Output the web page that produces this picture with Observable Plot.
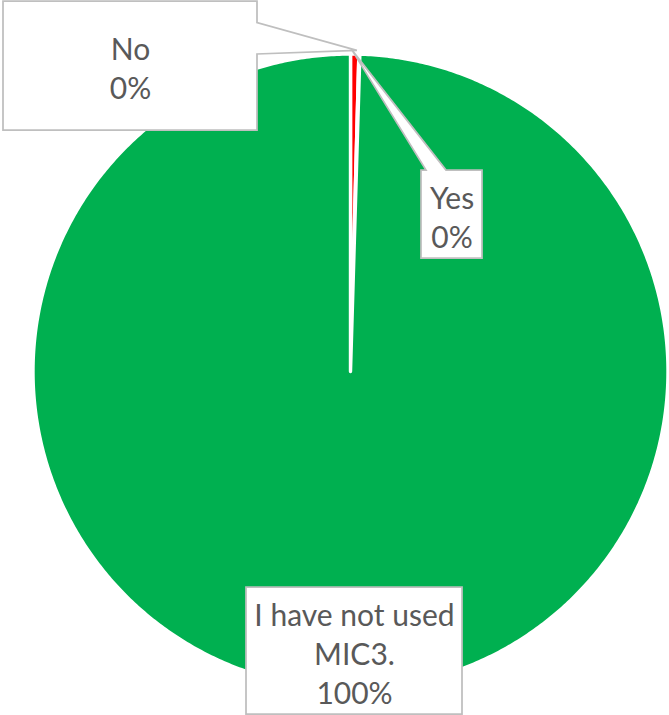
<!DOCTYPE html>
<html><head><meta charset="utf-8">
<script src="https://cdn.jsdelivr.net/npm/d3@7"></script>
<script src="https://cdn.jsdelivr.net/npm/@observablehq/plot@0.6"></script>
<style>body{margin:0;background:#fff} svg{display:block}</style>
</head><body><div id="chart"></div>
<script>
// ---- data ----
const categories = ["Yes", "No", "I have not used MIC3."];
const values = [0.42, 0.05, 99.53];           // estimated shares (%)
const labelNames = ["Yes", "No", "I have not used\nMIC3."];
const colors = ["#FF0000", "#4472C4", "#00B050"];

// ---- layout (pixels) ----
const layout = {
  "Yes": {box: [421, 170, 61, 88], wedge: {side: "top", from: 5, to: 25}},
  "No": {box: [3, 1, 254, 129], wedge: {side: "right", from: 21.5, to: 53}},
  "I have not used MIC3.": {box: [246, 587, 216, 127], wedge: null}
};
const cx = 350, cy = 371, R = 317.5;

// ---- slice geometry from values ----
const total = d3.sum(values);
let acc = 0;
const slices = categories.map((c, i) => {
  const a0 = acc / total * 2 * Math.PI; acc += values[i];
  const a1 = acc / total * 2 * Math.PI;
  return {category: c, i, a0, a1};
});
const pts = [];
for (const s of slices) {
  pts.push({x: 0, y: 0, slice: s.i, category: s.category});
  const n = Math.max(2, Math.ceil((s.a1 - s.a0) / (Math.PI / 360)));
  for (let k = 0; k <= n; k++) {
    const a = s.a0 + (s.a1 - s.a0) * k / n;
    pts.push({x: Math.sin(a), y: Math.cos(a), slice: s.i, category: s.category});
  }
  pts.push({x: 0, y: 0, slice: s.i, category: s.category});
}

function callouts(index, scales) {
  const g = d3.create("svg:g")
    .attr("fill", "#fff").attr("stroke", "#BFBFBF").attr("stroke-width", 1.75)
    .attr("stroke-linejoin", "miter");
  for (const s of slices) {
    const L = layout[s.category];
    const [bx, by, bw, bh] = L.box;
    const am = (s.a0 + s.a1) / 2;
    const tx = scales.x(Math.sin(am)) - 2, ty = scales.y(1.01 * Math.cos(am));
    const w = L.wedge;
    const p = d3.path();
    p.moveTo(bx, by);
    if (w && w.side === "top") { p.lineTo(bx + w.from, by); p.lineTo(tx, ty); p.lineTo(bx + w.to, by); }
    p.lineTo(bx + bw, by);
    if (w && w.side === "right") { p.lineTo(bx + bw, by + w.from); p.lineTo(tx, ty); p.lineTo(bx + bw, by + w.to); }
    p.lineTo(bx + bw, by + bh);
    p.lineTo(bx, by + bh);
    p.closePath();
    g.append("path").attr("d", p.toString());
  }
  return g.node();
}

const textMarks = slices.map(s => {
  const [bx, by, bw, bh] = layout[s.category].box;
  const label = `${labelNames[s.i]}\n${Math.round(values[s.i] / total * 100)}%`;
  return Plot.text([label], {
    frameAnchor: "top-left", dx: bx + bw / 2, dy: by + bh / 2 + 1.5,
    text: d => d, textAnchor: "middle", lineAnchor: "middle", lineHeight: 1.3,
    fontSize: 30, fill: "#595959"
  });
});

const chart = Plot.plot({
  width: 669, height: 715,
  marginTop: 0, marginRight: 0, marginBottom: 0, marginLeft: 0,
  style: {fontFamily: "Lato, 'Open Sans', sans-serif", background: "#fff", overflow: "visible"},
  x: {domain: [-1, 1], range: [cx - R, cx + R], axis: null},
  y: {domain: [-1, 1], range: [cy + R, cy - R], axis: null},
  color: {domain: categories, range: colors},
  marks: [
    Plot.line(pts, {x: "x", y: "y", z: "slice", fill: "category", stroke: "white",
      strokeWidth: 3.4, strokeLinejoin: "miter", strokeMiterlimit: 4, curve: "linear"}),
    callouts,
    ...textMarks
  ]
});
document.getElementById("chart").append(chart);
</script>
</body></html>
